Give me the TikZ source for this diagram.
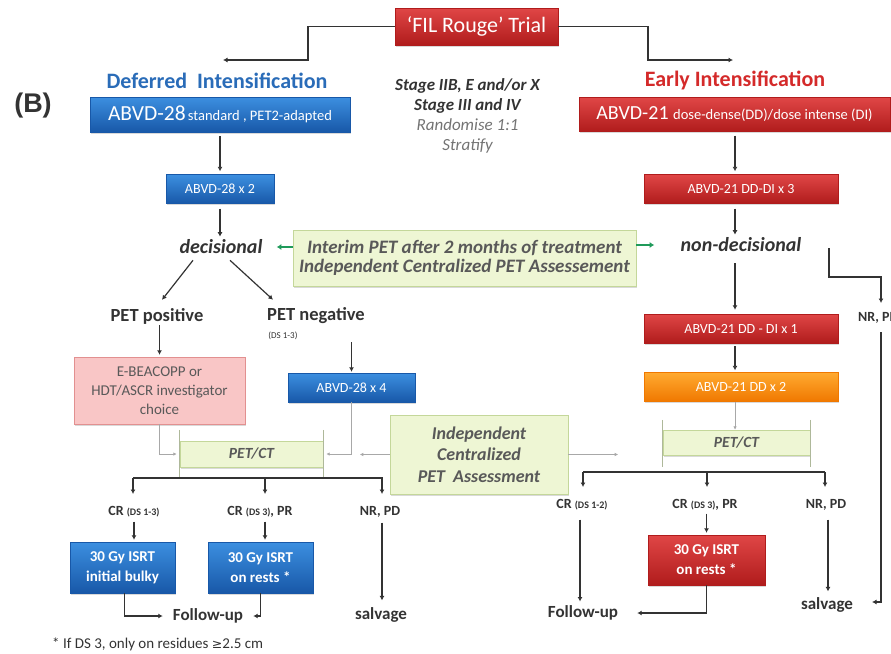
\documentclass[tikz,border=0pt]{standalone}
\usepackage{fontspec}
\setmainfont{Carlito}
\newfontfamily\arialfont{Liberation Sans}
\newfontfamily\symfont{DejaVu Sans}
\usetikzlibrary{arrows.meta,calc,shadows}
\newcommand{\dsfont}{\fontsize{10}{11}\selectfont}

\definecolor{bluetop}{HTML}{3C8FE0}
\definecolor{bluebot}{HTML}{1858A8}
\definecolor{redtop}{HTML}{E04646}
\definecolor{redbot}{HTML}{B01C1C}
\definecolor{orgtop}{HTML}{FFAA30}
\definecolor{orgbot}{HTML}{F07800}
\definecolor{pinkfill}{HTML}{F9C6C6}
\definecolor{pinkdraw}{HTML}{E29090}
\definecolor{grfill}{HTML}{EEF6D4}
\definecolor{grdraw}{HTML}{C4D79A}
\definecolor{titleblue}{HTML}{2A6CB8}
\definecolor{titlered}{HTML}{D42A2A}
\definecolor{arrgreen}{HTML}{1F9A5A}
\definecolor{linegray}{HTML}{A8A8A8}
\definecolor{tickgray}{HTML}{AEB89A}

\tikzset{
  box/.style={rectangle, inner sep=0pt, align=center, text=white,
    drop shadow={shadow xshift=1pt, shadow yshift=-1.5pt, opacity=0.3}},
  bluebox/.style={box, top color=bluetop, bottom color=bluebot, draw=bluebot},
  redbox/.style={box, top color=redtop, bottom color=redbot, draw=redbot},
  orgbox/.style={box, top color=orgtop, bottom color=orgbot, draw=orgbot},
  pinkbox/.style={box, fill=pinkfill, draw=pinkdraw, text=black!65},
  greenbox/.style={box, fill=grfill, draw=grdraw, text=black!65, font=\bfseries\itshape},
  conn/.style={draw=black!80, line width=1.2pt, -{Latex[length=4.5pt,width=5pt]}},
  barline/.style={draw=black!80, line width=1.4pt},
  thinarr/.style={draw=linegray, line width=0.8pt, -{Latex[length=3.5pt,width=3.5pt]}},
  tickline/.style={draw=tickgray, line width=0.8pt},
  garr/.style={draw=arrgreen, line width=1.8pt, -{Latex[length=4.5pt,width=6pt]}},
  lbl/.style={inner sep=1pt, text=black!80},
  smallbox/.style={minimum height=29pt, font=\fontsize{14}{16}\selectfont},
  isrt/.style={font=\bfseries\fontsize{15}{20}\selectfont},
  crl/.style={lbl, font=\bfseries\fontsize{14}{16}\selectfont},
  finl/.style={lbl, font=\bfseries\fontsize{17}{19}\selectfont},
}

\begin{document}
\begin{tikzpicture}[x=1pt,y=-1pt]
\useasboundingbox (0,0) rectangle (891,653);
\clip (0,0) rectangle (891,653);

% ---- top
\node[redbox, minimum width=163pt, minimum height=37pt, font=\fontsize{22}{24}\selectfont] (trial) at (476.5,26.5) {`FIL Rouge' Trial};
\node[font=\bfseries\fontsize{22}{24}\selectfont, text=titleblue] (deflbl) at (217,81) {Deferred\ \ Intensification};
\node[font=\bfseries\fontsize{22}{24}\selectfont, text=titlered] (earlbl) at (735,80) {Early Intensification};
\node[font=\arialfont\bfseries\fontsize{27}{29}\selectfont, text=black!80] (blbl) at (33,106) {(B)};

\coordinate (deftip) at (223,60);
\coordinate (eartip) at (733,60);
\draw[conn] (trial.west) -- (308,26.5) -- (308,60) -- (deftip);
\draw[conn] (trial.east) -- (648,26.5) -- (648,60) -- (eartip);

\node[bluebox, minimum width=260pt, minimum height=35pt] (abvd28) at (220,114.5)
  {{\fontsize{21.5}{23}\selectfont ABVD-28}\ {\fontsize{14.5}{16}\selectfont standard , PET2-adapted}};
\node[redbox, minimum width=311pt, minimum height=34pt] (abvd21) at (734.5,114.5)
  {{\fontsize{20}{22}\selectfont ABVD-21}\ \ {\fontsize{14.5}{16}\selectfont dose-dense(DD)/dose intense (DI)}};

\node[align=center, text=black!80, font=\fontsize{17}{20}\selectfont\itshape] (stage) at (467.5,116)
  {\textbf{Stage IIB, E and/or X}\\\textbf{Stage III and IV}\\{\color{black!55}Randomise 1:1}\\{\color{black!55}Stratify}};

% ---- second row
\coordinate (lx) at (220,0);
\coordinate (rx) at (735,0);
\node[bluebox, smallbox, minimum width=108pt] (l2) at (220,189) {ABVD-28 x 2};
\node[redbox, smallbox, minimum width=194pt] (r3) at (741,189) {ABVD-21 DD-DI x 3};
\draw[conn, shorten <=4pt, shorten >=3pt] (abvd28.south -| lx) -- (l2.north -| lx);
\draw[conn, shorten <=4pt, shorten >=3pt] (abvd21.south -| rx) -- (r3.north -| rx);

\node[lbl, font=\bfseries\itshape\fontsize{20}{22}\selectfont] (dec) at (221,247) {decisional};
\node[lbl, font=\bfseries\itshape\fontsize{20}{22}\selectfont] (nondec) at (741,245) {non-decisional};
\draw[conn, shorten <=5pt, shorten >=2pt] (l2.south -| lx) -- (dec.north -| lx);
\draw[conn, shorten <=5pt, shorten >=2pt] (r3.south -| rx) -- (nondec.north -| rx);

\node[greenbox, minimum width=343pt, minimum height=56pt, font=\bfseries\itshape\fontsize{19}{19}\selectfont] (interim) at (464.5,258)
  {Interim PET after 2 months of treatment\\Independent Centralized PET Assessement};
\draw[garr] (interim.west |- dec) -- ++(-16,0);
\draw[garr] (interim.east |- nondec) -- ++(18,0);

% ---- left branch
\node[lbl, font=\bfseries\fontsize{18.5}{20}\selectfont] (petpos) at (157,316) {PET positive};
\node[lbl, font=\bfseries\fontsize{18.5}{20}\selectfont] (petneg) at (316,316) {PET negative};
\node[lbl, font=\fontsize{9}{10}\selectfont] (dsneg) at (283,336) {(DS 1-3)};
\draw[conn] ([xshift=-28pt,yshift=-5pt]dec.south) -- ([xshift=5pt,yshift=7pt]petpos.north);
\draw[conn] ([xshift=9pt,yshift=-5pt]dec.south) -- ([xshift=-43pt,yshift=7pt]petneg.north);

\node[pinkbox, minimum width=171pt, minimum height=67pt, font=\fontsize{15}{19}\selectfont] (ebea) at (159.5,390.5)
  {E-BEACOPP or\\HDT/ASCR investigator\\choice};
\node[bluebox, smallbox, minimum width=127pt] (l4) at (351.5,387.5) {ABVD-28 x 4};
\draw[conn, shorten >=2pt] (petpos.south -| ebea) -- (ebea.north);
\draw[conn, shorten <=1pt, shorten >=1pt] (dsneg.south -| l4) -- (l4.north);

\node[greenbox, minimum width=143pt, minimum height=26pt, font=\bfseries\itshape\fontsize{15.5}{17}\selectfont] (pctl) at (251.5,454) {PET/CT};
\draw[tickline] ([yshift=11pt]pctl.north west) -- ([yshift=-11pt]pctl.south west);
\draw[tickline] ([yshift=11pt]pctl.north east) -- ([yshift=-11pt]pctl.south east);
\draw[thinarr] (ebea.south) -- (ebea.south |- pctl.west) -- ([xshift=-3pt]pctl.west);
\draw[thinarr] (l4.south) -- (l4.south |- pctl.east) -- ([xshift=3pt]pctl.east);

\node[greenbox, minimum width=178pt, minimum height=79pt, font=\bfseries\itshape\fontsize{18}{21.5}\selectfont] (indep) at (479,454.5)
  {Independent\\Centralized\\PET\ \ Assessment};
\draw[thinarr] (indep.west) -- ++(-30,0);
\draw[thinarr] (indep.east) -- ++(50,0);

% left outcomes
\node[crl] (crl1) at (134,512) {CR {\dsfont(DS 1-3)}};
\node[crl] (crl2) at (260,512) {CR {\dsfont(DS 3)}, PR};
\node[crl] (crl3) at (380,512) {NR, PD};
\draw[barline] (133,478) -- (383,478);
\draw[conn] (133,478) -- (133,494);
\draw[conn] (265,478) -- (265,494);
\draw[conn] (382,478) -- (382,494);

\node[bluebox, isrt, minimum width=105pt, minimum height=51pt] (isrt1) at (122.5,567.5) {30 Gy ISRT\\initial bulky};
\node[bluebox, isrt, minimum width=105pt, minimum height=51pt] (isrt2) at (260.5,567.5) {30 Gy ISRT\\on rests *};
\draw[conn, shorten <=3pt, shorten >=2pt] (crl1.south) -- (crl1.south |- isrt1.north);
\draw[conn, shorten <=3pt, shorten >=2pt] (crl2.south -| 265,0) -- (isrt2.north -| 265,0);

\node[finl] (fu1) at (208,616) {Follow-up};
\node[finl] (sal1) at (381,615) {salvage};
\draw[conn, shorten >=9pt] ([xshift=2pt]isrt1.south) |- (fu1.west);
\draw[conn, shorten >=9pt] (isrt2.south) |- (fu1.east);
\draw[conn, shorten <=4pt, shorten >=6pt] (crl3.south -| 382,0) -- (sal1.north -| 382,0);

\node[lbl, anchor=west, font=\fontsize{15}{17}\selectfont] (foot) at (51,644) {* If DS 3, only on residues {\symfont\fontsize{12.5}{14}\selectfont ≥}2.5 cm};

% ---- right branch
\node[redbox, smallbox, minimum width=194pt] (r1) at (741,328.5) {ABVD-21 DD - DI x 1};
\node[orgbox, smallbox, minimum width=194pt] (r2) at (741,387) {ABVD-21 DD x 2};
\node[greenbox, minimum width=147pt, minimum height=25pt, font=\bfseries\itshape\fontsize{15.5}{17}\selectfont] (pctr) at (736.5,442.5) {PET/CT};
\draw[tickline] ([yshift=10pt]pctr.north west) -- ([yshift=-12pt]pctr.south west);
\draw[tickline] ([yshift=10pt]pctr.north east) -- ([yshift=-12pt]pctr.south east);
\draw[conn, shorten <=10pt, shorten >=4pt] (nondec.south -| rx) -- (r1.north -| rx);
\draw[conn, shorten <=3pt, shorten >=2pt] (r1.south -| rx) -- (r2.north -| rx);
\draw[thinarr] (r2.south -| rx) -- (pctr.north -| rx);

\node[lbl, anchor=west, font=\bfseries\fontsize{14}{16}\selectfont] (nr0) at (857,318) {NR, PD};
\draw[conn] (829,248) -- (829,277) -| (881,303);
\draw[conn] (881,332) -- (881,602) -- (872,602);

\node[crl] (crr1) at (582,505) {CR {\dsfont(DS 1-2)}};
\node[crl] (crr2) at (705,505) {CR {\dsfont(DS 3)}, PR};
\node[crl] (crr3) at (826,505) {NR, PD};
\draw[barline] (583,472) -- (825,472);
\draw[conn] (583,472) -- (583,487);
\draw[conn] (707,472) -- (707,487);
\draw[conn] (825,472) -- (825,487);

\node[redbox, isrt, minimum width=117pt, minimum height=50pt] (isrt3) at (706.5,560) {30 Gy ISRT\\on rests *};
\node[finl] (fu2) at (583,613) {Follow-up};
\node[finl] (sal2) at (827,605) {salvage};
\draw[conn, shorten <=8pt, shorten >=3pt] (crr1.south -| 580,0) -- (fu2.north -| 580,0);
\draw[conn, shorten <=2pt, shorten >=2pt] (crr2.south -| isrt3) -- (isrt3.north);
\draw[conn, shorten >=18pt] (isrt3.south) |- (fu2.east);
\draw[conn, shorten <=8pt, shorten >=5pt] (crr3.south -| 828,0) -- (sal2.north -| 828,0);
\end{tikzpicture}
\end{document}
